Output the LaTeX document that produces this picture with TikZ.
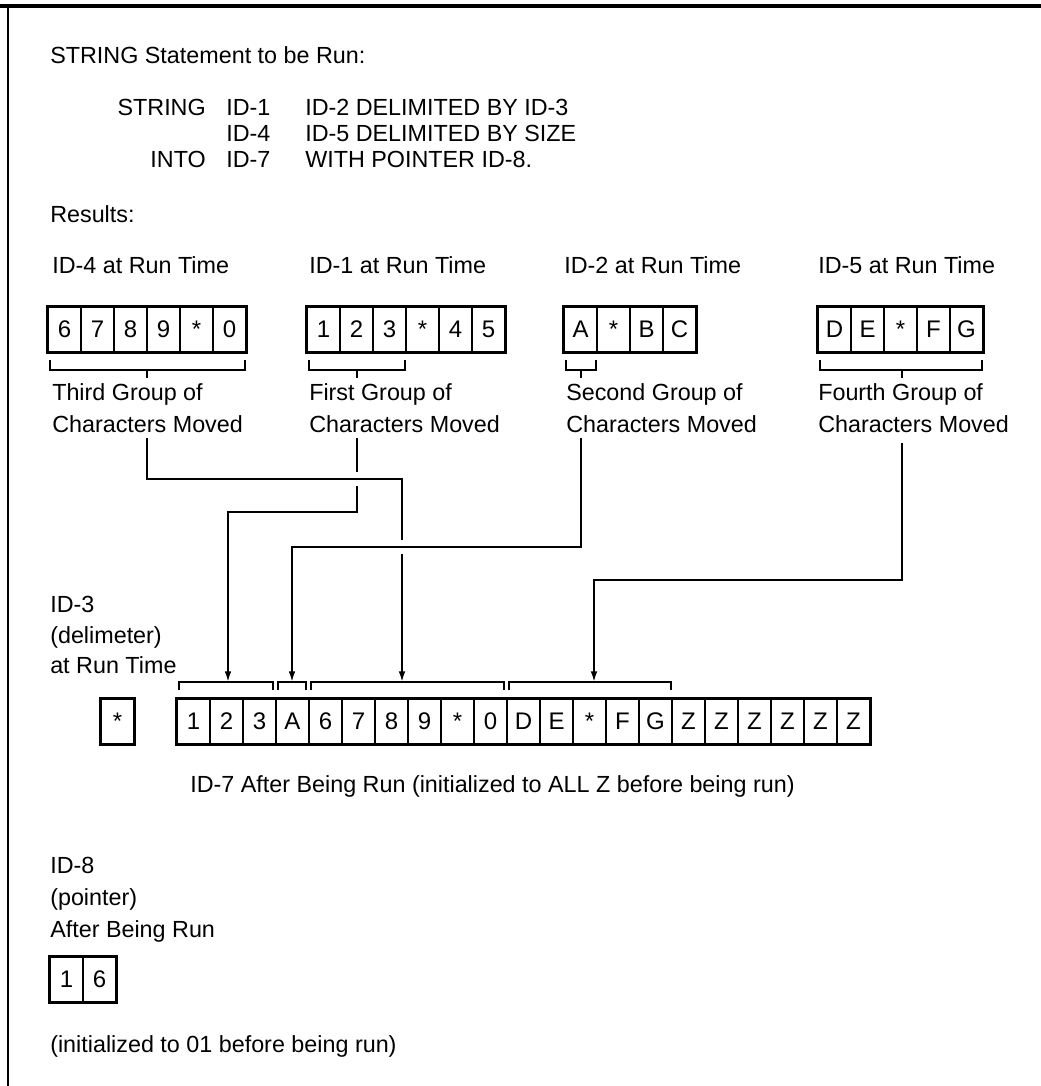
\documentclass[tikz,border=0pt]{standalone}
\usepackage{fontspec}
\setmainfont{Liberation Sans}
\usetikzlibrary{arrows.meta,positioning}

\begin{document}
\begin{tikzpicture}[x=0.75pt,y=-0.75pt,
    txt/.style={anchor=base west,inner sep=0pt,font=\fontsize{17.5}{21}\selectfont},
    rtxt/.style={txt,anchor=base east},
    cell/.style={draw,line width=0.9pt,minimum width=24.75pt,minimum height=33.75pt,inner sep=0pt,font=\fontsize{18}{21}\selectfont},
    frame/.style={line width=2.6pt},
    brace/.style={line width=1.4pt},
    link/.style={line width=1.4pt,preaction={draw=white,line width=10pt,arrows=-}},
    tip/.style={-{Latex[length=8pt,width=5pt]}}]
    \useasboundingbox (0,0) rectangle (1041,1086);
    \draw[frame] (0,6) -- (1041,6);
    \draw[line width=1.6pt] (8,6) -- (8,1086);

    \coordinate (thirdfoot) at (147,438);
    \coordinate (firstfoot) at (357,438);
    \coordinate (secondfoot) at (581,438);
    \coordinate (fourthfoot) at (902,443);
    \coordinate (dest1) at (228,682);
    \coordinate (dest2) at (292,682);
    \coordinate (dest3) at (402,682);
    \coordinate (dest4) at (594,682);

    \draw[link,tip] (firstfoot) -- ++(0,74) -| (dest1);
    \draw[link,tip] (thirdfoot) -- ++(0,41) -| (dest3);
    \draw[link,tip] (secondfoot) -- ++(0,109) -| (dest2);
    \draw[link,tip] (fourthfoot) -- ++(0,137) -| (dest4);

    \node (title) at (50,63) [txt] {STRING Statement to be Run:};
    \node (kwstring) at (206,115) [rtxt] {STRING};
    \node (opa) at (226,115) [txt] {ID-1};
    \node (opb) at (305,115) [txt] {ID-2 DELIMITED BY ID-3};
    \node (opc) at (226,141) [txt] {ID-4};
    \node (opd) at (305,141) [txt] {ID-5 DELIMITED BY SIZE};
    \node (kwinto) at (206,167) [rtxt] {INTO};
    \node (ope) at (226,167) [txt] {ID-7};
    \node (opf) at (305,167) [txt] {WITH POINTER ID-8.};
    \node (results) at (50,222) [txt] {Results:};

    \node (hdfour) at (52,273) [txt] {ID-4 at Run Time};
    \node (hdone) at (309,273) [txt] {ID-1 at Run Time};
    \node (hdtwo) at (564,273) [txt] {ID-2 at Run Time};
    \node (hdfive) at (818,273) [txt] {ID-5 at Run Time};

    \foreach \c [count=\k] in {6,7,8,9,*,0}
        \node[cell] (idfour-\k) at ({48+33*\k-16.5},329.5) {\c};
    \draw[frame] (idfour-1.north west) rectangle (idfour-6.south east);
    \foreach \c [count=\k] in {1,2,3,*,4,5}
        \node[cell] (idone-\k) at ({307+33*\k-16.5},329.5) {\c};
    \draw[frame] (idone-1.north west) rectangle (idone-6.south east);
    \foreach \c [count=\k] in {A,*,B,C}
        \node[cell] (idtwo-\k) at ({564+33*\k-16.5},329.5) {\c};
    \draw[frame] (idtwo-1.north west) rectangle (idtwo-4.south east);
    \foreach \c [count=\k] in {D,E,*,F,G}
        \node[cell] (idfive-\k) at ({818+33*\k-16.5},329.5) {\c};
    \draw[frame] (idfive-1.north west) rectangle (idfive-5.south east);

    \draw[brace] (50,360) |- (245,370) -- (245,360) (147,370) -- (147,378);
    \draw[brace] (309,360) |- (405,370) -- (405,360) (357,370) -- (357,378);
    \draw[brace] (566,360) |- (596,370) -- (596,360) (581,370) -- (581,378);
    \draw[brace] (820,360) |- (982,370) -- (982,360) (902,370) -- (902,378);

    \node (third-a) at (52,400) [txt] {Third Group of};
    \node (third-b) at (52,432) [txt] {Characters Moved};
    \node (first-a) at (309,400) [txt] {First Group of};
    \node (first-b) at (309,432) [txt] {Characters Moved};
    \node (second-a) at (566,400) [txt] {Second Group of};
    \node (second-b) at (566,432) [txt] {Characters Moved};
    \node (fourth-a) at (818,400) [txt] {Fourth Group of};
    \node (fourth-b) at (818,432) [txt] {Characters Moved};

    \node (delim-a) at (50,612) [txt] {ID-3};
    \node (delim-b) at (50,643) [txt] {(delimeter)};
    \node (delim-c) at (50,673) [txt] {at Run Time};

    \draw[brace] (179,690) |- (273,682) -- (273,690);
    \draw[brace] (278,690) |- (306,682) -- (306,690);
    \draw[brace] (311,690) |- (504,682) -- (504,690);
    \draw[brace] (509,690) |- (671,682) -- (671,690);

    \node[cell] (idthree) at (117.5,721.5) {*};
    \draw[frame] (idthree.north west) rectangle (idthree.south east);
    \foreach \c [count=\k] in {1,2,3,A,6,7,8,9,*,0,D,E,*,F,G,Z,Z,Z,Z,Z,Z}
        \node[cell] (idseven-\k) at ({177+33*\k-16.5},721.5) {\c};
    \draw[frame] (idseven-1.north west) rectangle (idseven-21.south east);
    \node (target) at (190,792) [txt] {ID-7 After Being Run (initialized to ALL Z before being run)};

    \node (ptr-a) at (50,873) [txt] {ID-8};
    \node (ptr-b) at (50,905) [txt] {(pointer)};
    \node (ptr-c) at (50,937) [txt] {After Being Run};
    \foreach \c [count=\k] in {1,6}
        \node[cell] (ideight-\k) at ({50+33*\k-16.5},979.5) {\c};
    \draw[frame] (ideight-1.north west) rectangle (ideight-2.south east);
    \node (ptr-d) at (50,1052) [txt] {(initialized to 01 before being run)};
\end{tikzpicture}
\end{document}
